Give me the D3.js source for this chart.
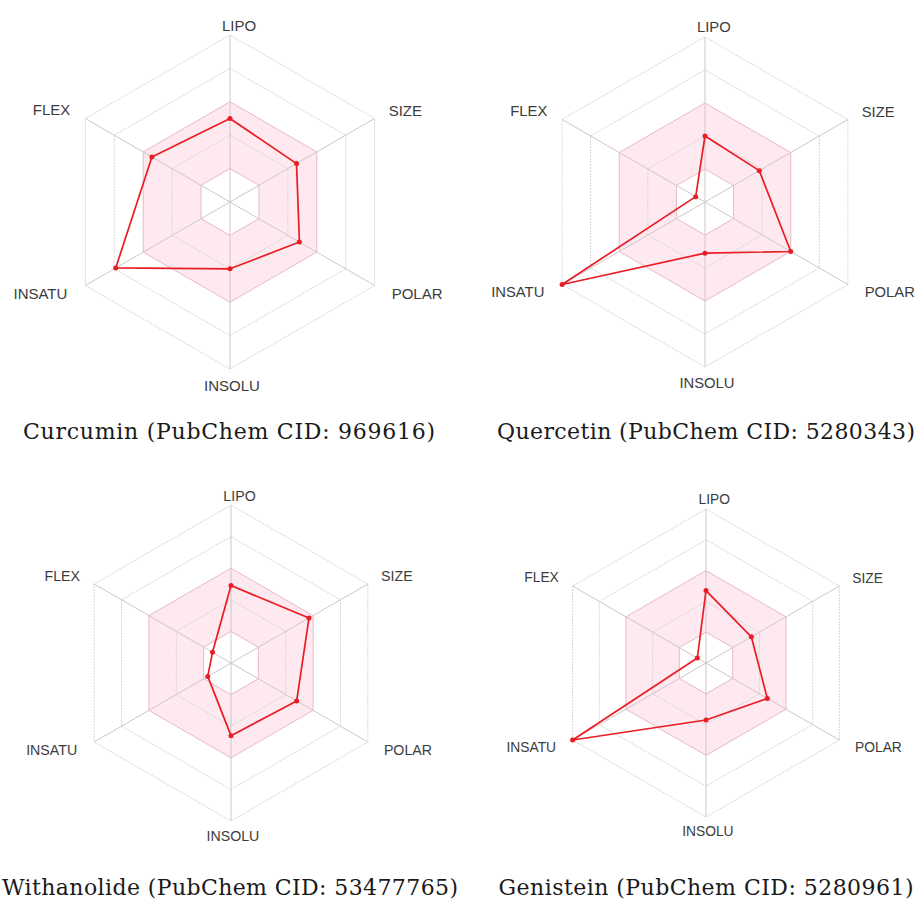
<!DOCTYPE html>
<html>
<head>
<meta charset="utf-8">
<script src="https://cdn.jsdelivr.net/npm/d3@7"></script>
<style>
  body { margin: 0; background: #fff; }
  svg { display: block; }
</style>
</head>
<body>
<div id="chart-area"></div>
<script>
// radar axes, clockwise from the top
var axes = ["LIPO", "SIZE", "POLAR", "INSOLU", "INSATU", "FLEX"];

var names = [
    "Curcumin (PubChem CID: 969616)",
    "Quercetin (PubChem CID: 5280343)",
    "Withanolide (PubChem CID: 53477765)",
    "Genistein (PubChem CID: 5280961)"
];

// values as a fraction of the outer ring
var curcumin    = [0.50, 0.46, 0.48, 0.40, 0.79, 0.54];
var quercetin   = [0.40, 0.38, 0.60, 0.31, 1.00, 0.065];
var withanolide = [0.49, 0.57, 0.48, 0.46, 0.17, 0.135];
var genistein   = [0.47, 0.34, 0.46, 0.37, 1.00, 0.065];

var rings = [0.2, 0.4, 0.6, 0.8, 1.0];
var optimal = [0.2, 0.6];

var series = [curcumin, quercetin, withanolide, genistein];

var width = 918, height = 901;

// where each radar sits
var panels = [
    {cx: 230, cy: 202, r: 167, capX: 229, capY: 439, capW: 412},
    {cx: 705, cy: 202, r: 165, capX: 706, capY: 439, capW: 418},
    {cx: 231, cy: 663, r: 158, capX: 230, capY: 895, capW: 456},
    {cx: 706, cy: 663, r: 154, capX: 706, capY: 895, capW: 415}
];

// label offsets from the outer vertex (for r = 167)
var labelPos = [
    {dx: 9, dy: -10, anchor: "middle"},
    {dx: 14, dy: -8, anchor: "start"},
    {dx: 17, dy: 8, anchor: "start"},
    {dx: 2, dy: 16, anchor: "middle"},
    {dx: -18, dy: 8, anchor: "end"},
    {dx: -15, dy: -9, anchor: "end"}
];

var svg = d3.select("#chart-area").append("svg")
    .attr("width", width)
    .attr("height", height);

var angle = (i) => i * 2 * Math.PI / axes.length;

panels.forEach((p, k) => {
    var r = d3.scaleLinear().domain([0, 1]).range([0, p.r]);
    var k0 = p.r / 167;

    var g = svg.append("g")
        .attr("transform", "translate(" + p.cx + ", " + p.cy + ")");

    var hex = (level) => d3.lineRadial()
        .angle((d, i) => angle(i))
        .radius(() => r(level))
        .curve(d3.curveLinearClosed)(axes);

    // pink optimal band
    g.append("path")
        .attr("d", hex(optimal[1]) + hex(optimal[0]))
        .attr("fill", "#fde9ef")
        .attr("fill-rule", "evenodd")
        .attr("stroke", "none");

    // rings
    g.selectAll(".ring")
        .data(rings)
        .enter().append("path")
        .attr("class", "ring")
        .attr("d", (d) => hex(d))
        .attr("fill", "none")
        .attr("stroke", (d) => optimal.indexOf(d) >= 0 ? "#e9b9c5" : "#d6d6d6")
        .attr("stroke-width", 1)
        .attr("stroke-dasharray", (d) => optimal.indexOf(d) >= 0 ? null : "2,1");

    // spokes
    g.selectAll(".spoke")
        .data(axes)
        .enter().append("line")
        .attr("class", "spoke")
        .attr("x1", 0).attr("y1", 0)
        .attr("x2", (d, i) => d3.pointRadial(angle(i), r(1))[0])
        .attr("y2", (d, i) => d3.pointRadial(angle(i), r(1))[1])
        .attr("stroke", "#cfc6c9")
        .attr("stroke-width", 1);

    // axis labels
    g.selectAll(".label")
        .data(axes)
        .enter().append("text")
        .attr("class", "label")
        .attr("x", (d, i) => d3.pointRadial(angle(i), r(1))[0] + labelPos[i].dx * k0)
        .attr("y", (d, i) => d3.pointRadial(angle(i), r(1))[1] + labelPos[i].dy * k0)
        .attr("text-anchor", (d, i) => labelPos[i].anchor)
        .attr("dominant-baseline", "central")
        .style("font-family", "'Liberation Sans', Arial, sans-serif")
        .style("font-size", (15 * k0).toFixed(1) + "px")
        .style("fill", "#3c3c3c")
        .text((d) => d);

    var vals = series[k];

    // compound polygon
    g.append("path")
        .attr("d", d3.lineRadial()
            .angle((d, i) => angle(i))
            .radius((d) => r(d))
            .curve(d3.curveLinearClosed)(vals))
        .attr("fill", "none")
        .attr("stroke", "#ea1c24")
        .attr("stroke-width", 1.7)
        .attr("stroke-linejoin", "round");

    g.selectAll(".pt")
        .data(vals)
        .enter().append("circle")
        .attr("class", "pt")
        .attr("cx", (d, i) => d3.pointRadial(angle(i), r(d))[0])
        .attr("cy", (d, i) => d3.pointRadial(angle(i), r(d))[1])
        .attr("r", 2.5)
        .attr("fill", "#ea1c24");

    // caption
    svg.append("text")
        .attr("x", p.capX)
        .attr("y", p.capY)
        .attr("text-anchor", "middle")
        .attr("textLength", p.capW)
        .attr("lengthAdjust", "spacing")
        .style("font-family", "'DejaVu Serif', serif")
        .style("font-size", "22px")
        .style("fill", "#1a1a1a")
        .text(names[k]);
});
</script>
</body>
</html>
